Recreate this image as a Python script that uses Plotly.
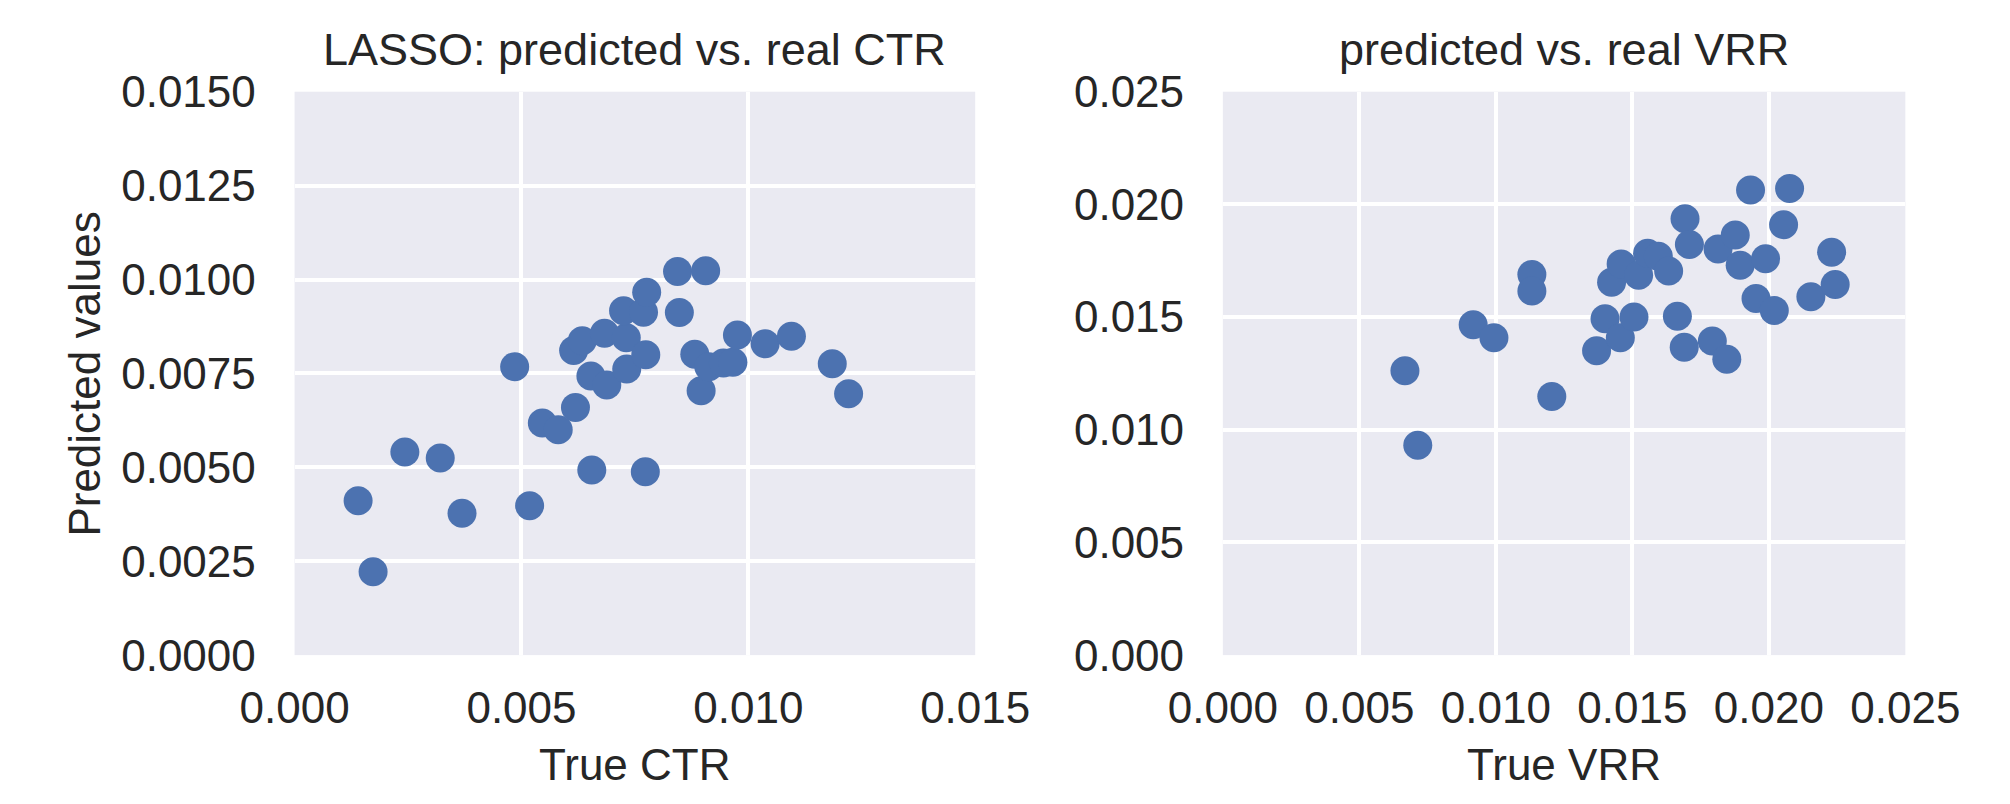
import plotly.graph_objects as go
from plotly.subplots import make_subplots

# CTR panel: true vs predicted
true_ctr = [0.00140, 0.00173, 0.00243, 0.00321, 0.00369, 0.00485, 0.00518, 0.00546,
            0.00581, 0.00619, 0.00615, 0.00634, 0.00655, 0.00653, 0.00688, 0.00683,
            0.00731, 0.00732, 0.00725, 0.00769, 0.00776, 0.00774, 0.00773, 0.00844,
            0.00848, 0.00906, 0.00882, 0.00896, 0.00913, 0.00945, 0.00966, 0.00976,
            0.01037, 0.01095, 0.01185, 0.01221]
pred_ctr = [0.00411, 0.00222, 0.00541, 0.00525, 0.00378, 0.00768, 0.00398, 0.00618,
            0.00600, 0.00659, 0.00811, 0.00837, 0.00493, 0.00743, 0.00719, 0.00857,
            0.00845, 0.00762, 0.00917, 0.00913, 0.00966, 0.00800, 0.00488, 0.01021,
            0.00912, 0.01023, 0.00801, 0.00704, 0.00768, 0.00778, 0.00780, 0.00852,
            0.00829, 0.00849, 0.00776, 0.00696]

# VRR panel
true_vrr = [0.00667, 0.00714, 0.00917, 0.00993, 0.01132, 0.01132, 0.01205, 0.01369,
            0.01400, 0.01456, 0.01424, 0.01459, 0.01506, 0.01523, 0.01556, 0.01595,
            0.01633, 0.01665, 0.01690, 0.01693, 0.01709, 0.01793, 0.01814, 0.01846,
            0.01877, 0.01895, 0.01933, 0.01953, 0.01988, 0.02020, 0.02054, 0.02076,
            0.02154, 0.02230, 0.02243]
pred_vrr = [0.01262, 0.00931, 0.01466, 0.01408, 0.01689, 0.01616, 0.01148, 0.01350,
            0.01492, 0.01408, 0.01655, 0.01736, 0.01500, 0.01686, 0.01783, 0.01770,
            0.01704, 0.01504, 0.01366, 0.01936, 0.01822, 0.01394, 0.01802, 0.01313,
            0.01864, 0.01730, 0.02064, 0.01582, 0.01759, 0.01529, 0.01910, 0.02070,
            0.01590, 0.01788, 0.01644]

titles = ["LASSO: predicted vs. real CTR", "predicted vs. real VRR"]
xlabels = ["True CTR", "True VRR"]
ylabel = "Predicted values"

W, H = 2010, 804
BG = "#EAEAF2"
DOT = "#4C72B0"
INK = "#262626"
FONT = "Liberation Sans, Arial, sans-serif"

fig = make_subplots(rows=1, cols=2)
fig.add_trace(go.Scatter(x=true_ctr, y=pred_ctr, mode="markers",
                         marker=dict(size=29, color=DOT, line=dict(width=0))), 1, 1)
fig.add_trace(go.Scatter(x=true_vrr, y=pred_vrr, mode="markers",
                         marker=dict(size=29, color=DOT, line=dict(width=0))), 1, 2)

# pixel boxes of the two plot areas
left_box = (245, 965)
right_box = (1227, 1949)
top, bottom = 62.5, 662.5

ax = dict(showgrid=True, gridcolor="white", gridwidth=4, zeroline=False,
          showline=False, ticks="outside", tickcolor="rgba(0,0,0,0)",
          tickfont=dict(size=44, color=INK, family=FONT))

fig.update_xaxes(ax, ticklen=14)
fig.update_yaxes(ax, ticklen=29)
fig.update_xaxes(range=[0, 0.015], dtick=0.005, tickformat=".3f",
                 domain=[left_box[0] / W, left_box[1] / W], row=1, col=1)
fig.update_yaxes(range=[0, 0.015], dtick=0.0025, tickformat=".4f",
                 domain=[1 - bottom / H, 1 - top / H], row=1, col=1)
fig.update_xaxes(range=[0, 0.025], dtick=0.005, tickformat=".3f",
                 domain=[right_box[0] / W, right_box[1] / W], row=1, col=2)
fig.update_yaxes(range=[0, 0.025], dtick=0.005, tickformat=".3f",
                 domain=[1 - bottom / H, 1 - top / H], row=1, col=2)

for box, t, xl in [(left_box, titles[0], xlabels[0]), (right_box, titles[1], xlabels[1])]:
    cx = (box[0] + box[1]) / 2 / W
    fig.add_annotation(text=t, x=cx, y=1 - 18 / H, xref="paper", yref="paper",
                       showarrow=False, xanchor="center", yanchor="middle",
                       font=dict(size=45, color=INK, family=FONT))
    fig.add_annotation(text=xl, x=cx, y=1 - 779 / H, xref="paper", yref="paper",
                       showarrow=False, xanchor="center", yanchor="middle",
                       font=dict(size=44, color=INK, family=FONT))

fig.add_annotation(text=ylabel, x=23 / W, y=1 - 363 / H, xref="paper", yref="paper",
                   showarrow=False, xanchor="center", yanchor="middle", textangle=-90,
                   font=dict(size=44, color=INK, family=FONT))

fig.update_layout(width=W, height=H, showlegend=False,
                  paper_bgcolor="white", plot_bgcolor=BG,
                  margin=dict(l=0, r=0, t=0, b=0))

fig.write_html("out.html")
